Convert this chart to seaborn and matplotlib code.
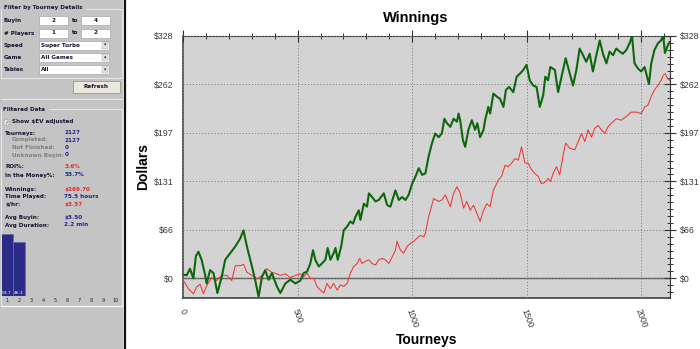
import numpy as np
import pandas as pd
import matplotlib
matplotlib.use("Agg")
import matplotlib.pyplot as plt
import seaborn as sns
from matplotlib.patches import Rectangle
from matplotlib.lines import Line2D
from matplotlib.ticker import FixedLocator, MultipleLocator

# ---------------- data ----------------
green_t = [0, 15, 29, 44, 55, 66, 80, 95, 102, 117, 132, 149, 168, 183, 205, 227, 249, 263, 278, 300,
           314, 329, 344, 358, 373, 387, 409, 424, 446, 468, 490, 512, 526, 541, 555, 567, 577, 592,
           606, 621, 631, 643, 657, 665, 675, 690, 701, 716, 730, 742, 752, 767, 774, 789, 803, 811,
           825, 840, 854, 876, 891, 905, 927, 942, 956, 971, 985, 1000, 1015, 1029, 1044, 1058, 1072,
           1087, 1101, 1116, 1130, 1141, 1152, 1167, 1181, 1196, 1203, 1210, 1222, 1232, 1246, 1261,
           1275, 1285, 1297, 1312, 1319, 1333, 1341, 1355, 1370, 1384, 1399, 1410, 1424, 1442, 1457,
           1471, 1486, 1500, 1514, 1529, 1544, 1558, 1573, 1582, 1594, 1604, 1624, 1638, 1653, 1671,
           1689, 1703, 1718, 1732, 1747, 1761, 1776, 1790, 1805, 1820, 1834, 1849, 1863, 1878, 1892,
           1907, 1921, 1936, 1950, 1961, 1972, 1987, 2001, 2016, 2035, 2045, 2059, 2074, 2088, 2097,
           2105, 2117, 2126]
green_v = [5, 4, 13, 0, 30, 36, 25, 5, -7, 11, 7, -20, 2, 25, 34, 43, 54, 65, 43, 16,
           -2, -25, 2, 11, -2, 7, -11, -20, -7, -2, -7, -3, 7, 9, 20, 38, 25, 16,
           20, 25, 41, 25, 34, 41, 25, 43, 65, 70, 77, 74, 83, 92, 79, 101, 97, 115,
           110, 104, 106, 115, 99, 97, 119, 106, 110, 106, 113, 128, 138, 149, 140, 142, 165,
           183, 196, 191, 196, 216, 210, 205, 216, 212, 223, 214, 187, 178, 201, 214,
           201, 210, 191, 201, 214, 232, 223, 250, 246, 243, 232, 255, 259, 252, 273,
           277, 282, 289, 268, 261, 259, 232, 248, 273, 268, 286, 282, 252, 273, 298,
           277, 261, 282, 311, 302, 293, 304, 280, 302, 322, 304, 291, 307, 302, 311,
           307, 304, 309, 318, 328, 291, 284, 280, 286, 263, 291, 309, 318, 322, 329,
           305, 315, 320]

red_t = [0, 22, 44, 58, 73, 88, 102, 124, 146, 168, 190, 212, 227, 249, 263, 278, 300, 322, 344, 365,
         387, 409, 424, 446, 468, 490, 512, 526, 541, 555, 570, 584, 599, 614, 628, 643, 657, 672,
         687, 701, 716, 730, 745, 760, 771, 781, 796, 811, 825, 840, 854, 869, 883, 898, 913, 927,
         934, 949, 963, 978, 992, 1007, 1021, 1036, 1051, 1058, 1072, 1094, 1116, 1130, 1145, 1167,
         1181, 1196, 1210, 1225, 1239, 1254, 1268, 1283, 1297, 1312, 1326, 1341, 1355, 1377, 1391,
         1406, 1420, 1435, 1449, 1464, 1478, 1493, 1507, 1522, 1536, 1551, 1565, 1580, 1595, 1605,
         1616, 1631, 1645, 1660, 1671, 1689, 1711, 1726, 1740, 1755, 1769, 1784, 1798, 1813, 1827,
         1842, 1856, 1871, 1893, 1914, 1936, 1958, 1980, 2001, 2016, 2030, 2045, 2059, 2074, 2088,
         2098, 2107, 2117, 2126]
red_v = [-3, -14, -21, -12, -8, -21, -10, 1, -3, 4, 4, -3, 17, 17, 19, 8, 4, -1, 4, 13,
         8, 6, 4, 6, 1, 4, 6, 2, 7, 0, 0, -11, -16, -20, -7, -14, -7, -16,
         -9, -11, -7, 7, 16, 20, 27, 20, 23, 25, 20, 18, 25, 27, 25, 20, 29, 38,
         50, 38, 34, 43, 47, 50, 54, 58, 56, 61, 83, 108, 104, 106, 113, 97,
         115, 124, 115, 95, 104, 92, 99, 88, 77, 92, 101, 97, 119, 133, 138,
         153, 151, 156, 162, 160, 178, 156, 156, 147, 142, 138, 128, 130, 135, 131,
         142, 151, 140, 167, 183, 176, 174, 185, 196, 185, 201, 191, 203, 207, 201,
         196, 205, 210, 216, 214, 219, 225, 225, 223, 232, 234, 246, 255, 261, 268,
         275, 277, 270, 268]

x_ticks = [0, 500, 1000, 1500, 2000]
y_ticks = [0, 65.6, 131.2, 196.8, 262.4, 328]
y_tick_labels = ["$0", "$66", "$131", "$197", "$262", "$328"]

place_labels = ["1", "2", "3", "4", "5", "6", "7", "8", "9", "10"]
place_pct = [53.7, 46.3, 0, 0, 0, 0, 0, 0, 0, 0]

filter_rows = [("Buyin", "2", "4"), ("# Players", "1", "2")]
filter_drops = [("Speed", "Super Turbo"), ("Game", "All Games"), ("Tables", "All")]
stats = [
    ("Tourneys:", "2127", "main", "navy"),
    ("Completed:", "2127", "sub", "navy"),
    ("Not Finished:", "0", "sub", "navy"),
    ("Unknown Buyin:", "0", "sub", "navy"),
    ("ROI%:", "3.6%", "main", "red"),
    ("In the Money%:", "53.7%", "main", "navy"),
    ("Winnings:", "$269.70", "main", "red"),
    ("Time Played:", "75.5 hours", "main", "navy"),
    ("$/hr:", "$3.57", "main", "red"),
    ("Avg Buyin:", "$3.50", "main", "navy"),
    ("Avg Duration:", "2.2 min", "main", "navy"),
]
stats_y = [133, 140, 147.5, 155, 167, 175, 189.5, 196.5, 204, 218, 225]

# ---------------- style ----------------
sns.set_style("white")
plt.rcParams["font.family"] = ["DejaVu Sans"]
plt.rcParams["text.parse_math"] = False

W, H = 700, 349
fig = plt.figure(figsize=(7.0, 3.49), dpi=100)
fig.patch.set_facecolor("white")

def fx(x): return x / W
def fy(y): return 1 - y / H

def rect(x0, y0, x1, y1, **kw):
    fig.patches.append(Rectangle((fx(x0), fy(y1)), (x1 - x0) / W, (y1 - y0) / H,
                                 transform=fig.transFigure, **kw))

def hline(x0, x1, y, **kw):
    fig.lines.append(Line2D([fx(x0), fx(x1)], [fy(y), fy(y)], transform=fig.transFigure, **kw))

def vline(x, y0, y1, **kw):
    fig.lines.append(Line2D([fx(x), fx(x)], [fy(y0), fy(y1)], transform=fig.transFigure, **kw))

def txt(x, y, s, **kw):
    kw.setdefault("va", "center")
    fig.text(fx(x), fy(y), s, **kw)

PANEL = "#c4c4c4"
LBL = "#141432"
NAVY = "#22228a"
RED = "#e52a2a"
SUB = "#7e7e7e"
FS = 4.05

# left panel
rect(0, 0, 123.5, H, fc=PANEL, ec="none", zorder=-5)
vline(123.3, 0, H, color="#ececec", lw=0.8)
vline(125.2, 0, H, color="#111111", lw=1.6)

# group box 1
txt(3.5, 8, "Filter by Tourney Details", fontsize=FS, fontweight="bold", color=LBL)
hline(86, 121.5, 8.5, color="#eeeeee", lw=0.6)
vline(121.5, 8.5, 78, color="#eeeeee", lw=0.6)
hline(1, 121.5, 78, color="#eeeeee", lw=0.6)
vline(1, 8.5, 78, color="#eeeeee", lw=0.6)

for i, (lab, a, b) in enumerate(filter_rows):
    yc = 20.5 + 12.5 * i
    txt(4, yc, lab, fontsize=FS, fontweight="bold", color=LBL)
    rect(39, yc - 4.5, 68, yc + 4.5, fc="white", ec="#9a9a9a", lw=0.4)
    txt(53.5, yc, a, fontsize=FS, fontweight="bold", color=LBL, ha="center")
    txt(71.5, yc, "to", fontsize=FS, fontweight="bold", color=LBL)
    rect(81, yc - 4.5, 110, yc + 4.5, fc="white", ec="#9a9a9a", lw=0.4)
    txt(95.5, yc, b, fontsize=FS, fontweight="bold", color=LBL, ha="center")

for i, (lab, val) in enumerate(filter_drops):
    yc = 45 + 12.2 * i
    txt(4, yc, lab, fontsize=FS, fontweight="bold", color=LBL)
    rect(39, yc - 4.5, 109, yc + 4.5, fc="white", ec="#9a9a9a", lw=0.4)
    txt(41, yc, val, fontsize=FS, fontweight="bold", color=LBL)
    rect(102, yc - 3.5, 108, yc + 3.5, fc="#e4e4e4", ec="#a0a0a0", lw=0.3)
    txt(105, yc, "\u25BE", fontsize=3.5, color="#333333", ha="center")

rect(73, 81, 120, 92.5, fc="#ebe8dc", ec="#8c8a80", lw=0.5)
txt(96.5, 86.8, "Refresh", fontsize=FS, fontweight="bold", color=LBL, ha="center")

# group box 2
hline(1, 121.5, 99, color="#eeeeee", lw=0.6)
txt(3, 109, "Filtered Data", fontsize=FS, fontweight="bold", color=LBL)
hline(49, 121.5, 109.5, color="#eeeeee", lw=0.6)
vline(121.5, 109.5, 305.5, color="#eeeeee", lw=0.6)
vline(1, 109.5, 305.5, color="#eeeeee", lw=0.6)
hline(1, 121.5, 305.5, color="#f4f4f4", lw=1.0)
rect(3.5, 119.5, 8.5, 124.5, fc="#f0f0f0", ec="#8a8a8a", lw=0.3)
txt(6, 122, "\u2713", fontsize=3.8, color="#333333", ha="center")
txt(12, 122, "Show $EV adjusted", fontsize=FS, fontweight="bold", color=LBL)

for (lab, val, kind, col), yc in zip(stats, stats_y):
    if kind == "main":
        txt(5, yc, lab, fontsize=FS, fontweight="bold", color=LBL)
    else:
        txt(12, yc, lab, fontsize=FS, fontweight="bold", color=SUB)
    txt(64.5, yc, val, fontsize=FS, fontweight="bold", color=NAVY if col == "navy" else RED)

# in-the-money bar chart
axb = fig.add_axes([fx(0.8), fy(296), 120.5 / W, (296 - 226) / H])
dfb = pd.DataFrame({"place": place_labels, "pct": place_pct})
sns.barplot(data=dfb, x="place", y="pct", ax=axb, color="#2c2c88", width=0.96,
            edgecolor="#6a6ab8", linewidth=0.5, saturation=1)
axb.set_ylim(0, 60.2)
axb.set_facecolor("none")
for s in axb.spines.values():
    s.set_visible(False)
axb.set_yticks([])
axb.set_xlabel("")
axb.set_ylabel("")
axb.tick_params(axis="x", length=0, pad=1.2, labelsize=3.6, labelcolor="#20204a")
for i, v in enumerate(place_pct):
    if v > 0:
        axb.text(i, 1.2, f"{v}", ha="center", va="bottom", fontsize=3.2, color="white")

# ---------------- main chart ----------------
ax = fig.add_axes([fx(183.3), fy(298), (670 - 183.3) / W, (298 - 36) / H])
ax.set_facecolor("#d3d3d3")
dfr = pd.DataFrame({"t": red_t, "v": red_v})
dfg = pd.DataFrame({"t": green_t, "v": green_v})
ax.axhline(0, color="#555555", lw=1.0, zorder=1)
sns.lineplot(data=dfr, x="t", y="v", ax=ax, color="#f03535", lw=0.75, estimator=None, sort=False, zorder=3)
sns.lineplot(data=dfg, x="t", y="v", ax=ax, color="#0d680d", lw=1.5, estimator=None, sort=False, zorder=4)
ax.set_xlim(0, 2127)
ax.set_ylim(-26.7, 328)
ax.set_xlabel("")
ax.set_ylabel("")

ax.xaxis.set_major_locator(FixedLocator(x_ticks))
ax.xaxis.set_minor_locator(MultipleLocator(100))
ax.yaxis.set_major_locator(FixedLocator(y_ticks))
ax.yaxis.set_minor_locator(MultipleLocator(65.6 / 7))
ax.set_yticklabels(y_tick_labels)
ax.set_xticklabels([str(v) for v in x_ticks], rotation=-70, ha="center", va="top")
ax.tick_params(which="major", direction="inout", length=8, width=0.8, color="#333333",
               labelsize=6.3, labelcolor="#3a3a3a", top=True, right=True, labelright=True)
ax.tick_params(axis="y", which="major", pad=3)
ax.tick_params(axis="x", which="major", pad=3)
ax.tick_params(which="minor", direction="inout", length=5, width=0.7, color="#333333",
               top=True, right=True)
for lab in ax.get_xticklabels() + ax.get_yticklabels() + ax.yaxis.get_ticklabels(which="both"):
    lab.set_fontfamily("Liberation Sans")
for t in ax.yaxis.get_major_ticks():
    t.label2.set_fontfamily("Liberation Sans")
for s in ax.spines.values():
    s.set_color("#333333")
    s.set_linewidth(0.8)
ax.spines["left"].set_linewidth(1.1)
ax.spines["bottom"].set_linewidth(1.1)
ax.grid(which="major", color="#858585", linestyle=(0, (1.2, 2.0)), linewidth=0.7)
ax.set_axisbelow(False)
for gl in ax.get_xgridlines() + ax.get_ygridlines():
    gl.set_zorder(2)

txt(416, 18, "Winnings", fontsize=10.5, fontweight="bold", color="black", ha="center",
    family="Liberation Sans")
txt(427, 340, "Tourneys", fontsize=10, fontweight="bold", color="black", ha="center",
    family="Liberation Sans")
txt(143, 167, "Dollars", fontsize=10, fontweight="bold", color="black", ha="center",
    rotation=90, family="Liberation Sans")

fig.savefig("out.png", dpi=100)
